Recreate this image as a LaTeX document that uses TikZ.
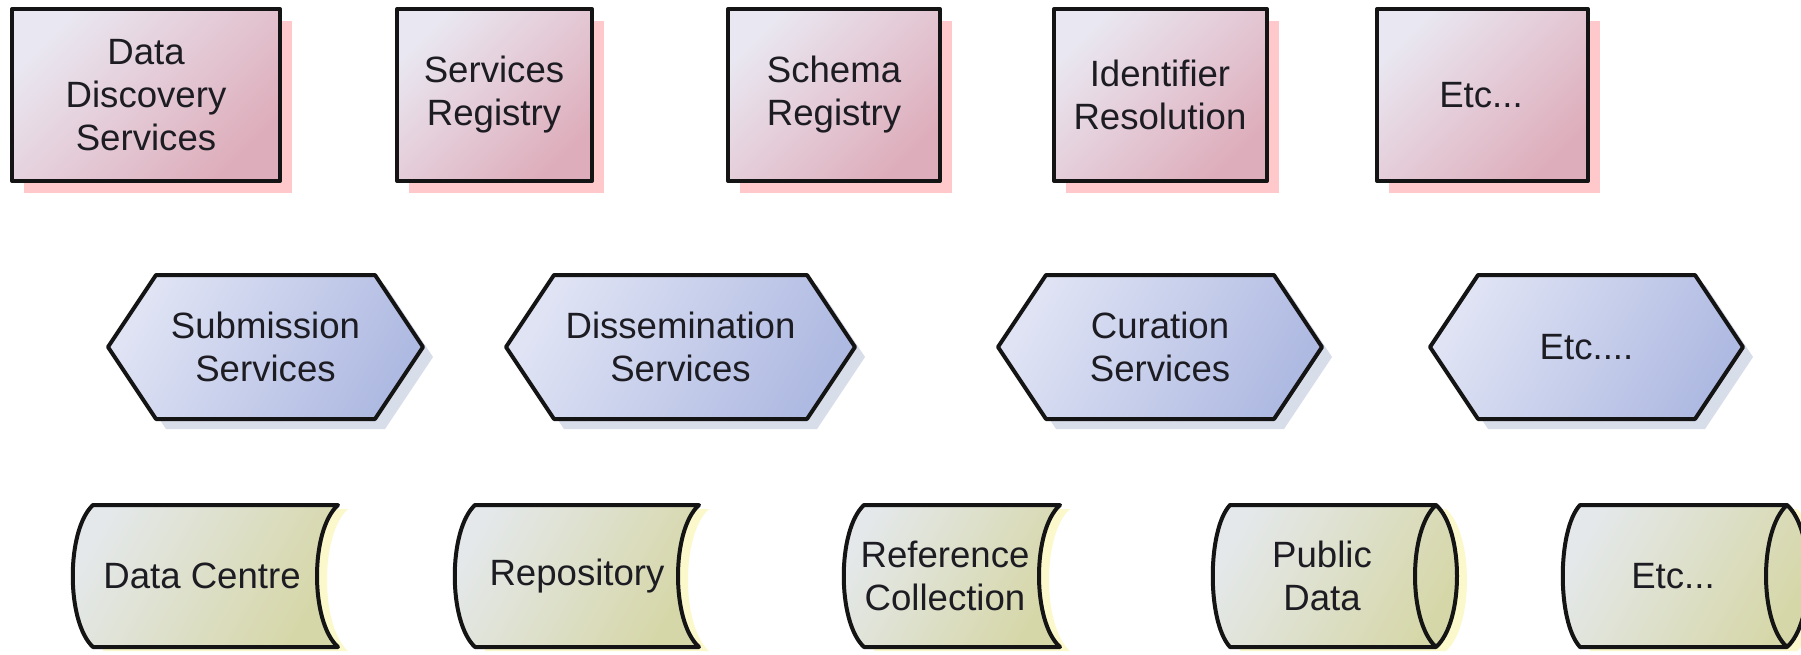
\documentclass[tikz,border=0pt]{standalone}
\usepackage{fontspec}
\setmainfont{Liberation Sans}
\definecolor{pinkA}{HTML}{E9E7F1}
\definecolor{pinkB}{HTML}{DEADBB}
\definecolor{pinkshadow}{HTML}{FFC9CB}
\definecolor{hexA}{HTML}{DFE3F4}
\definecolor{hexB}{HTML}{AFBAE2}
\definecolor{hexshadow}{HTML}{D8DDEA}
\definecolor{stoA}{HTML}{E4E8EA}
\definecolor{stoB}{HTML}{D6D7A8}
\definecolor{stoshadow}{HTML}{FBF9CC}
\definecolor{inkc}{HTML}{1C1C22}
\newcommand\topbox[5]{%
  \fill[pinkshadow] (#2+12,21) rectangle (#3+12,193);
  \path[boxshade, outline] (#2,9) rectangle (#3,181);
  \node[lbl] (#1) at (#4,95) {#5};
}
\newcommand\hexbox[4]{%
  \fill[hexshadow] (#2+10,357) -- (#2+58,285) -- (#3-38,285) -- (#3+10,357) -- (#3-38,429) -- (#2+58,429) -- cycle;
  \path[hexshade, outline] (#2,347) -- (#2+48,275) -- (#3-48,275) -- (#3,347) -- (#3-48,419) -- (#2+48,419) -- cycle;
  \node[lbl] (#1) at ({(#2+#3)/2},347) {#4};
}
\newcommand\storebox[5]{%
  \fill[stoshadow] (#2+10,509) -- (#3+10,509) .. controls (#3-18,534) and (#3-18,626) .. (#3+10,651) -- (#2+10,651) -- cycle;
  \path[stoshade, outline] (#2,505) -- (#3,505) .. controls (#3-28,530) and (#3-28,622) .. (#3,647) -- (#2,647) .. controls (#2-27,622) and (#2-27,530) .. (#2,505) -- cycle;
  \node[lbl] (#1) at (#4,576) {#5};
}
\newcommand\cylbox[5]{%
  \fill[stoshadow] (#2+10,509) -- (#3+10,509) .. controls (#3+38,534) and (#3+38,626) .. (#3+10,651) -- (#2+10,651) -- cycle;
  \path[stoshade, outline] (#2,505) -- (#3,505) .. controls (#3+28,530) and (#3+28,622) .. (#3,647) -- (#2,647) .. controls (#2-23,622) and (#2-23,530) .. (#2,505) -- cycle;
  \draw[outline] (#3,505) .. controls (#3-28,530) and (#3-28,622) .. (#3,647);
  \node[lbl] (#1) at (#4,576) {#5};
}
\begin{document}
\begin{tikzpicture}[x=0.5pt,y=-0.5pt,
  outline/.style={draw=black!92, line width=2pt, line join=round},
  lbl/.style={font=\fontsize{18.3}{21.5}\selectfont, align=center, text=inkc, inner sep=0pt},
  boxshade/.style={top color=pinkA, bottom color=pinkB, shading angle=45},
  hexshade/.style={top color=hexA, bottom color=hexB, shading angle=60},
  stoshade/.style={top color=stoA, bottom color=stoB, shading angle=60}]
\fill[white] (0,0) rectangle (1801,654);
\useasboundingbox (0,0) rectangle (1801,654);
% top row
\topbox{dds}{12}{280}{146}{Data\\Discovery\\Services}
\topbox{sreg}{397}{592}{494}{Services\\Registry}
\topbox{schreg}{728}{940}{834}{Schema\\Registry}
\topbox{idres}{1054}{1267}{1160}{Identifier\\Resolution}
\topbox{etctop}{1377}{1588}{1481}{Etc...}
% middle row
\hexbox{subm}{108}{423}{Submission\\Services}
\hexbox{dissem}{506}{855}{Dissemination\\Services}
\hexbox{cur}{998}{1322}{Curation\\Services}
\hexbox{etcmid}{1430}{1743}{Etc....}
% bottom row
\storebox{dc}{93}{338}{202}{Data Centre}
\storebox{repo}{475}{699}{577}{Repository}
\storebox{refc}{864}{1060}{945}{Reference\\Collection}
\cylbox{pub}{1230}{1436}{1322}{Public\\Data}
\cylbox{etcbot}{1580}{1787}{1673}{Etc...}
\end{tikzpicture}
\end{document}
